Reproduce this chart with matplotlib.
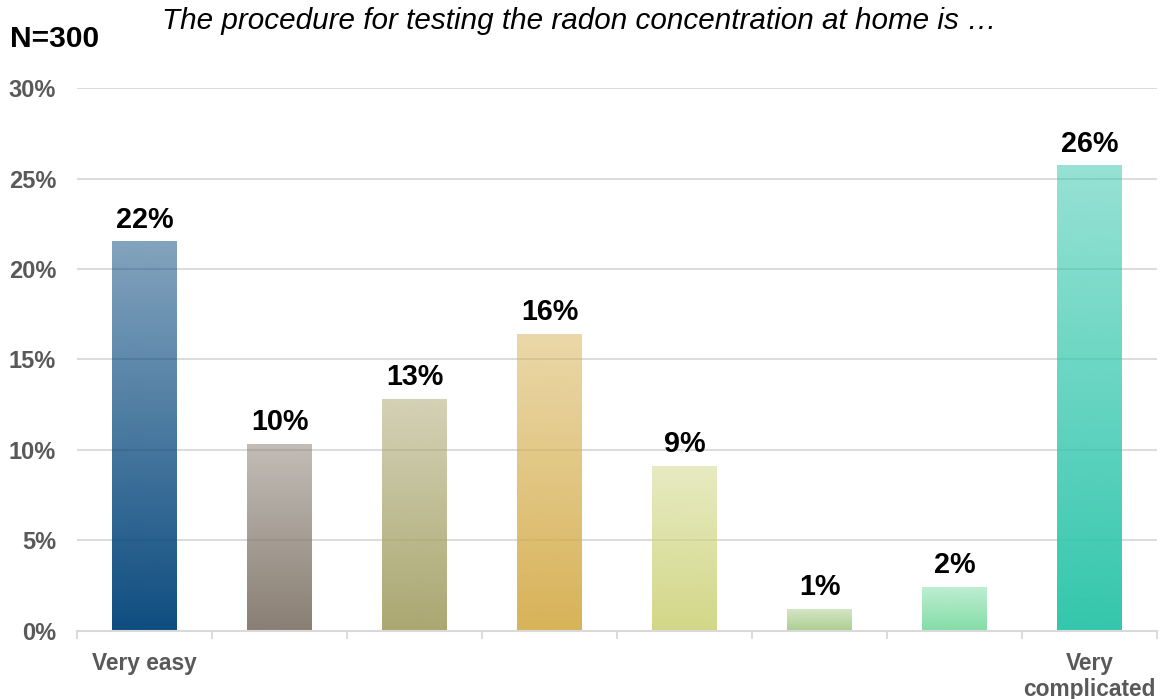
import numpy as np
import matplotlib.pyplot as plt
from matplotlib.colors import to_rgb

plt.rcParams['font.family'] = ['Liberation Sans', 'DejaVu Sans']

# data
categories = ['Very easy', '', '', '', '', '', '', 'Very\ncomplicated']
values = [21.5, 10.3, 12.8, 16.4, 9.1, 1.2, 2.4, 25.7]
labels = ['22%', '10%', '13%', '16%', '9%', '1%', '2%', '26%']
colors = ['#06477c', '#857a6e', '#a8a46c', '#d6b052', '#d0d683', '#a9cc8c', '#7edca4', '#2dc5aa']
yticks = [0, 5, 10, 15, 20, 25, 30]

fig = plt.figure(figsize=(11.64, 6.99), dpi=100)
ax = fig.add_axes([0.0662, 0.0973, 0.9278, 0.7768])

bar_w = 0.48
x = np.arange(len(values))
grid_c = '#d9d9d9'

for yv in yticks[1:]:
    ax.axhline(yv, color=grid_c, lw=1.3, zorder=1)

for i, (v, c) in enumerate(zip(values, colors)):
    rgb = to_rgb(c)
    n = 256
    img = np.zeros((n, 1, 4))
    img[:, 0, :3] = rgb
    # row 0 = top of the bar (origin upper)
    img[:, 0, 3] = np.linspace(0.5, 0.97, n)
    ax.imshow(img, extent=[x[i] - bar_w / 2, x[i] + bar_w / 2, 0, v],
              aspect='auto', origin='upper', zorder=2, interpolation='bilinear')
    ax.text(x[i], v + 0.45, labels[i], ha='center', va='bottom',
            fontsize=20.7, fontweight='bold', color='black', zorder=3)

ax.set_xlim(-0.5, len(values) - 0.5)
ax.set_ylim(0, 30)

ax.set_yticks(yticks)
ax.set_yticklabels([f'{t}%' for t in yticks])
ax.set_xticks(x)
ax.set_xticklabels(categories)
ax.set_xticks(np.arange(-0.5, len(values)), minor=True)

ax.tick_params(axis='y', length=0, pad=15, labelsize=17, labelcolor='#595959')
ax.tick_params(axis='x', which='major', length=0, pad=15, labelsize=16.4, labelcolor='#595959')
ax.tick_params(axis='x', which='minor', length=6, width=1.3, color=grid_c, direction='out')
for lab in ax.get_xticklabels() + ax.get_yticklabels():
    lab.set_fontweight('bold')
ax.get_xticklabels()[-1].set_linespacing(1.15)

for s in ['top', 'right', 'left']:
    ax.spines[s].set_visible(False)
ax.spines['bottom'].set_color(grid_c)
ax.spines['bottom'].set_linewidth(1.5)
ax.spines['bottom'].set_zorder(4)

fig.text(0.0086, 0.944, 'N=300', fontsize=21.5, fontweight='bold', ha='left', va='center')
fig.text(0.1392, 0.970, 'The procedure for testing the radon concentration at home is \u2026',
         fontsize=21.3, fontstyle='italic', ha='left', va='center')

fig.savefig('out.png', dpi=100)
